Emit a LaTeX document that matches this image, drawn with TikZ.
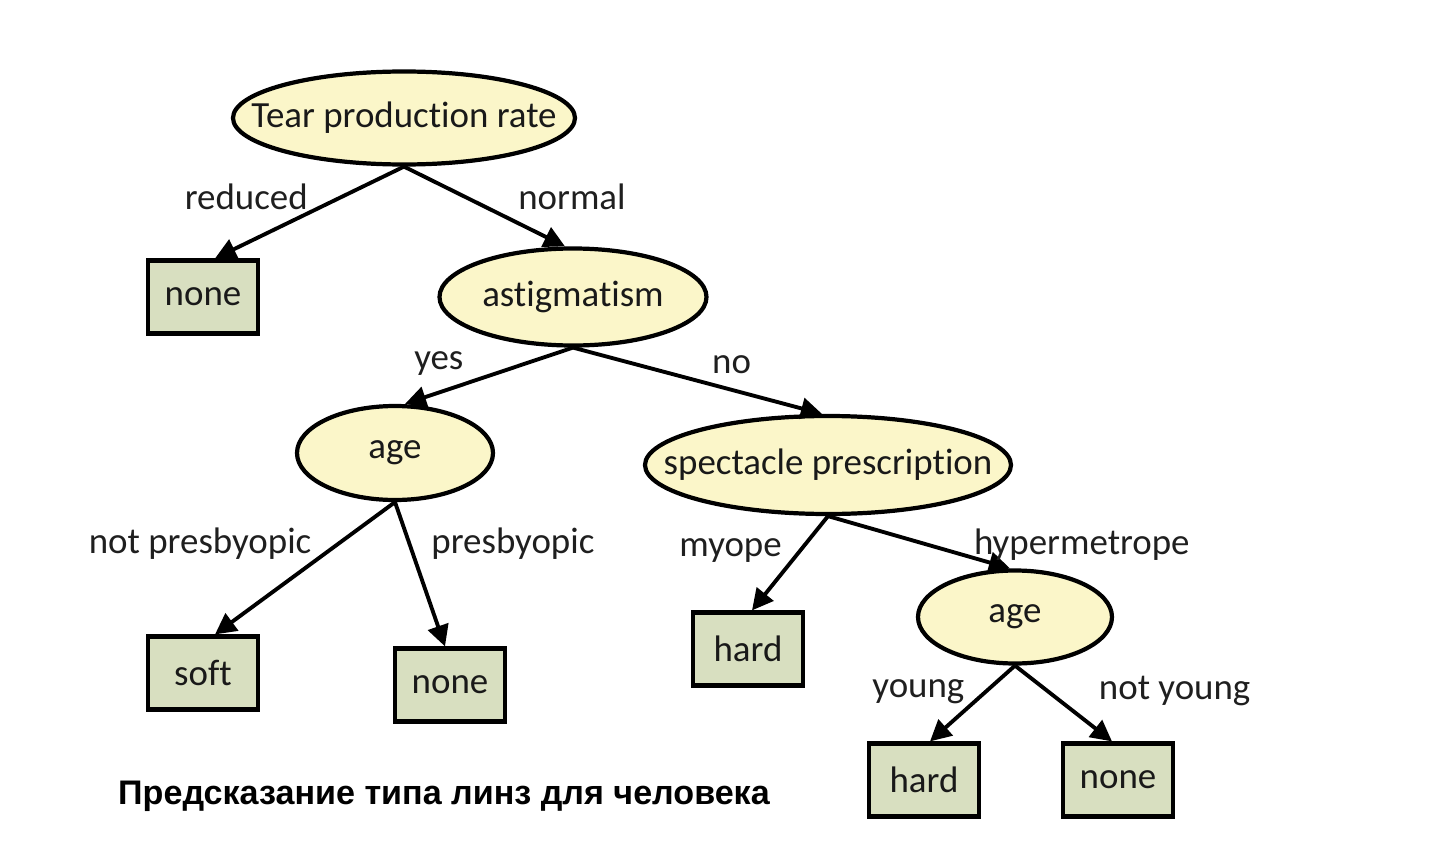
\documentclass[tikz,border=0pt]{standalone}
\usepackage{fontspec}
\setmainfont{Carlito}[Ligatures=NoCommon]
\newfontfamily\capfont{Liberation Sans}
\usetikzlibrary{shapes.geometric, arrows.meta}

\definecolor{testfill}{RGB}{251,246,201}
\definecolor{leaffill}{RGB}{216,223,192}

% text of a test node, kept out of the ellipse size
\newcommand{\testtext}[1]{\makebox[0pt]{#1}}

\begin{document}
\begin{tikzpicture}[
  test/.style={draw, ellipse, line width=1.2pt, fill=testfill, inner sep=0pt,
               text=black!90, font=\fontsize{10.5}{12}\selectfont},
  leaf/.style={draw, rectangle, line width=1.2pt, fill=leaffill, inner sep=0pt,
               minimum width=1.10cm, minimum height=0.73cm,
               text=black!90, font=\fontsize{10.5}{12}\selectfont},
  lbl/.style={inner sep=0pt, text=black!88, font=\fontsize{10.5}{12}\selectfont},
  capt/.style={font=\capfont\bfseries\fontsize{9.7}{12}\selectfont},
  arr/.style={-{Triangle[length=6pt, width=6pt]}, line width=1.1pt}
]
  \useasboundingbox (0,0) rectangle (14.34,-8.43);

  % inner tests
  \node[test, minimum width=3.42cm, minimum height=0.93cm] (tear) at (4.04,-1.18) {\testtext{Tear production rate}};
  \node[test, minimum width=2.67cm, minimum height=0.97cm] (astig) at (5.73,-2.97) {\testtext{astigmatism}};
  \node[test, minimum width=1.96cm, minimum height=0.94cm] (age) at (3.95,-4.53) {\testtext{age}};
  \node[test, minimum width=3.66cm, minimum height=0.98cm] (spec) at (8.28,-4.65) {\testtext{spectacle prescription}};
  \node[test, minimum width=1.94cm, minimum height=0.93cm] (age2) at (10.15,-6.17) {\testtext{age}};

  % leaves
  \node[leaf] (none1) at (2.03,-2.97) {none};
  \node[leaf] (soft) at (2.03,-6.73) {soft};
  \node[leaf] (none2) at (4.50,-6.85) {none};
  \node[leaf] (hard1) at (7.48,-6.49) {hard};
  \node[leaf] (hard2) at (9.24,-7.80) {hard};
  \node[leaf] (none3) at (11.18,-7.80) {none};

  \node[capt] (title) at (4.44,-7.96) {Предсказание типа линз для человека};

  \draw[arr] (tear.south) -- node[lbl, left=0.32cm, pos=0.33]{reduced} ([xshift=0.12cm]none1.north);
  \draw[arr] (tear.south) -- node[lbl, right=0.52cm, pos=0.375]{normal} ([xshift=-0.08cm]astig.north);

  \draw[arr] (astig.south) -- node[lbl, left=0.59cm, pos=0.29]{yes} ([xshift=0.1cm]age.north);
  \draw[arr] (astig.south) -- node[lbl, right=0.75cm, pos=0.25]{no} ([xshift=-0.06cm]spec.north);

  \draw[arr] (age.south) -- node[lbl, left=0.25cm, pos=0.315]{not presbyopic} ([xshift=0.12cm]soft.north);
  \draw[arr] (age.south) -- node[lbl, right=0.2cm, pos=0.29]{presbyopic} ([xshift=-0.05cm]none2.north);

  \draw[arr] (spec.south) -- node[lbl, left=0.17cm, pos=0.36]{myope} ([xshift=0.04cm]hard1.north);
  \draw[arr] (spec.south) -- node[lbl, right=0.44cm, pos=0.55]{hypermetrope} ([xshift=-0.05cm]age2.north);

  \draw[arr] (age2.south) -- node[lbl, left=0.19cm, pos=0.35]{young} ([xshift=0.06cm]hard2.north);
  \draw[arr] (age2.south) -- node[lbl, right=0.5cm, pos=0.33]{not young} ([xshift=-0.06cm]none3.north);
\end{tikzpicture}
\end{document}
